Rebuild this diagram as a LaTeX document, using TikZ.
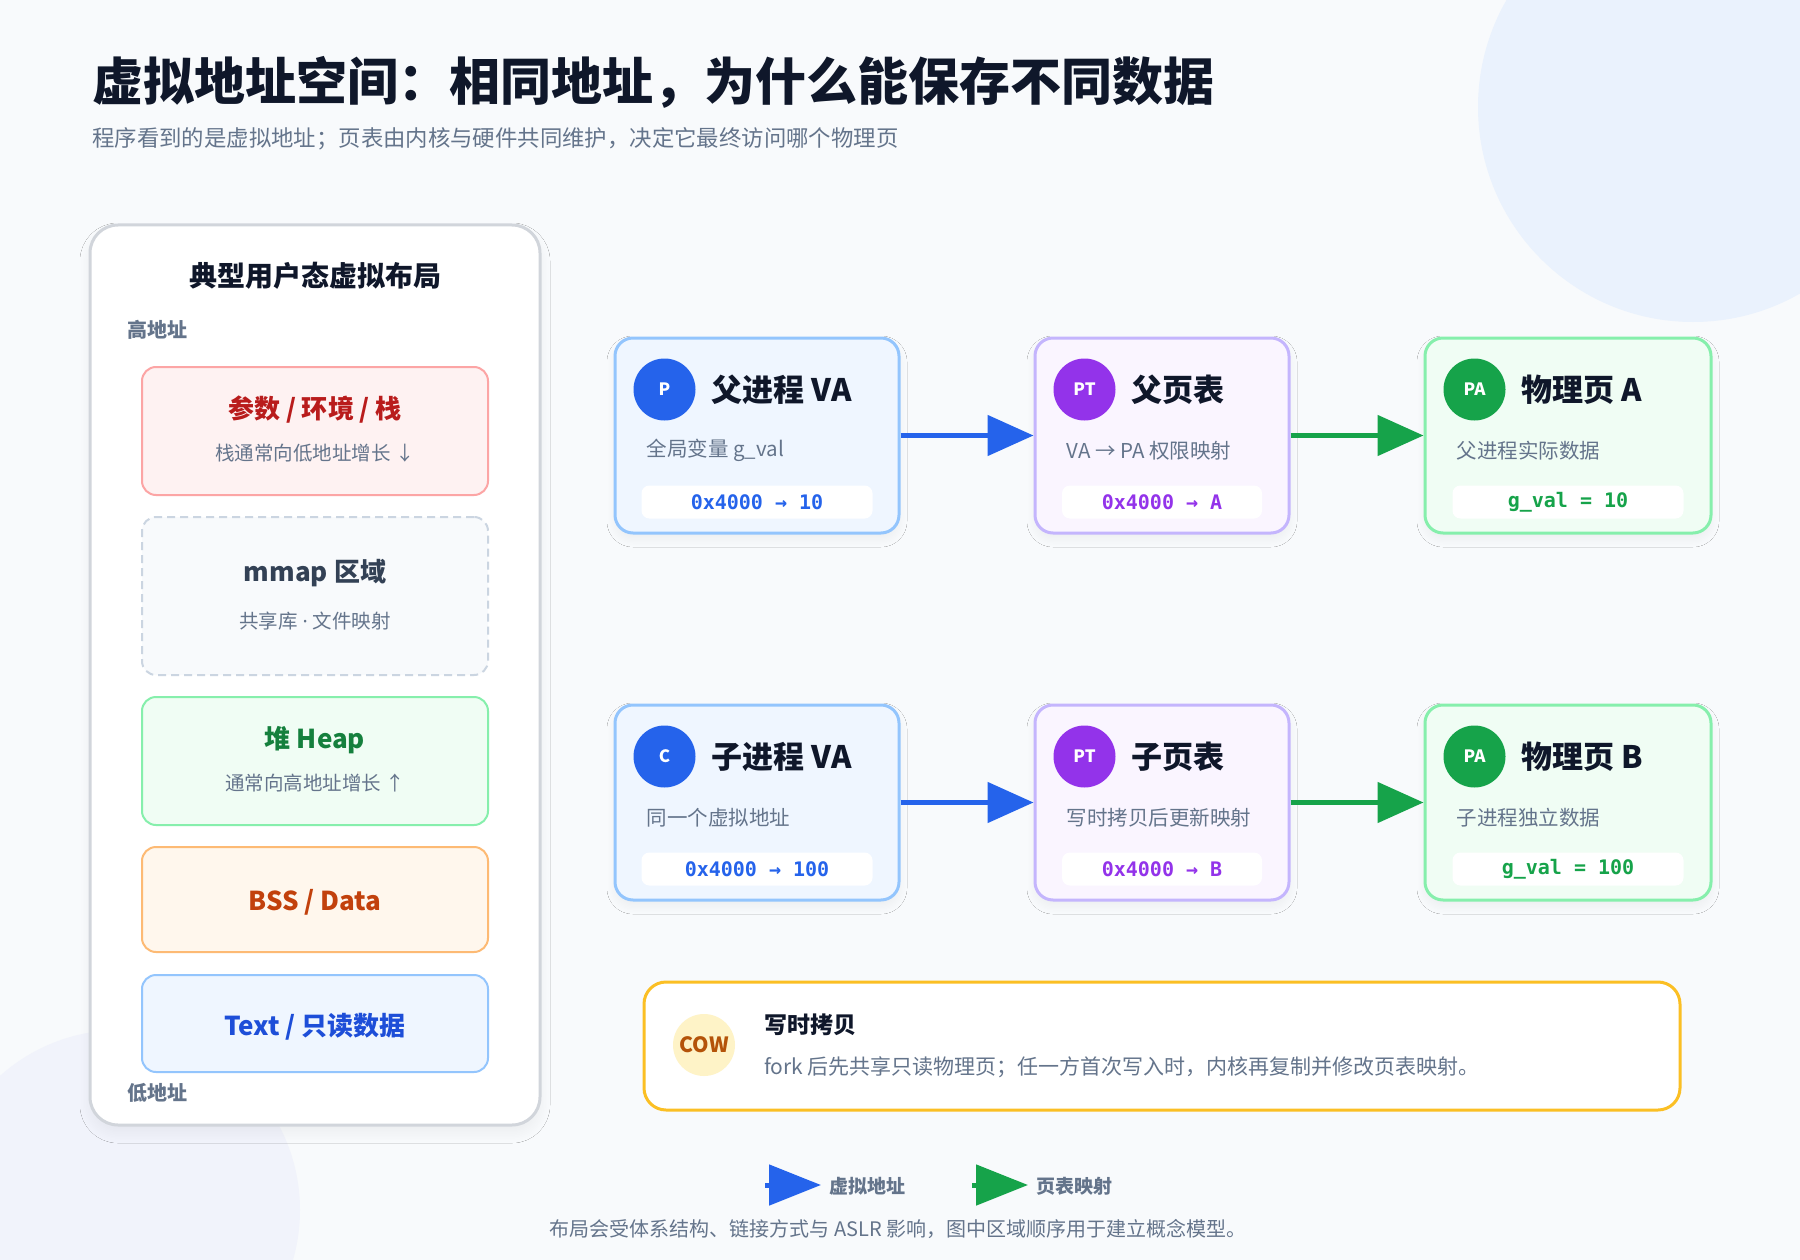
\documentclass[tikz,border=0pt]{standalone}
\usepackage{fontspec}
\setmainfont{Noto Sans CJK SC}
\newfontfamily\codefont{DejaVu Sans Mono}
\newfontfamily\latinfont{Noto Sans}
\usetikzlibrary{arrows.meta, positioning, shadows.blur}

\definecolor{bgpage}{HTML}{F8FAFC}
\definecolor{blobA}{HTML}{EAF2FD}
\definecolor{blobB}{HTML}{F1F3FB}
\definecolor{ink}{HTML}{0F172A}
\definecolor{muted}{HTML}{64748B}
\definecolor{panelD}{HTML}{D1D5DB}
\definecolor{vaF}{HTML}{EFF6FF}\definecolor{vaD}{HTML}{93C5FD}\definecolor{vaC}{HTML}{2563EB}
\definecolor{ptF}{HTML}{FAF5FF}\definecolor{ptD}{HTML}{C4B5FD}\definecolor{ptC}{HTML}{9333EA}
\definecolor{paF}{HTML}{F0FDF4}\definecolor{paD}{HTML}{86EFAC}\definecolor{paC}{HTML}{16A34A}
\definecolor{stF}{HTML}{FEF2F2}\definecolor{stD}{HTML}{FCA5A5}\definecolor{stC}{HTML}{B91C1C}
\definecolor{mmF}{HTML}{F8FAFC}\definecolor{mmD}{HTML}{CBD5E1}\definecolor{mmC}{HTML}{334155}
\definecolor{hpC}{HTML}{15803D}
\definecolor{bsF}{HTML}{FFF7ED}\definecolor{bsD}{HTML}{FDBA74}\definecolor{bsC}{HTML}{C2410C}
\definecolor{txF}{HTML}{EFF6FF}\definecolor{txD}{HTML}{93C5FD}\definecolor{txC}{HTML}{1D4ED8}
\definecolor{cowD}{HTML}{FBBF24}\definecolor{cowF}{HTML}{FEF3C7}\definecolor{cowC}{HTML}{B45309}

\tikzset{
  card/.style={line width=3pt, rounded corners=18pt, minimum height=195pt,
    blur shadow={shadow xshift=0pt, shadow yshift=-6pt, shadow blur radius=8pt, shadow blur steps=30, shadow opacity=5}},
  badge/.style={circle, minimum size=62pt, inner sep=0pt, text=white,
    font=\fontsize{17}{20}\selectfont\bfseries},
  cardtitle/.style={inner sep=0pt, text=ink, font=\fontsize{31}{36}\selectfont\bfseries},
  cardsub/.style={inner sep=0pt, anchor=west, text=muted, font=\fontsize{20.5}{24}\selectfont},
  codebox/.style={fill=white, rounded corners=8pt, minimum height=33pt, inner sep=0pt,
    font=\codefont\fontsize{20}{24}\selectfont\bfseries},
  region/.style={line width=2pt, rounded corners=14pt, minimum width=346pt},
  regtitle/.style={inner sep=0pt, font=\fontsize{26}{30}\selectfont\bfseries},
  regsub/.style={inner sep=0pt, text=muted, font=\fontsize{19.5}{23}\selectfont},
  addr/.style={inner sep=0pt, anchor=west, text=muted, font=\fontsize{20}{24}\selectfont\bfseries},
  vaarrow/.style={draw=vaC, line width=5pt, -{Triangle[length=46pt, width=40pt]}},
  ptarrow/.style={draw=paC, line width=5pt, -{Triangle[length=46pt, width=40pt]}},
  keyva/.style={draw=vaC, line width=5pt, -{Triangle[length=52pt, width=40pt]}},
  keypt/.style={draw=paC, line width=5pt, -{Triangle[length=52pt, width=40pt]}},
}

\begin{document}
\begin{tikzpicture}[x=1pt, y=-1pt]
\useasboundingbox (0,0) rectangle (1800,1260);
\fill[bgpage] (0,0) rectangle (1800,1260);
\fill[blobA] (1693,107) circle[radius=215pt];
\fill[blobB] (120,1210) circle[radius=180pt];

\node[inner sep=0pt, anchor=west, text=ink, font=\fontsize{51}{60}\selectfont\bfseries] (title) at (92,82)
  {虚拟地址空间：相同地址，为什么能保存不同数据};
\node[inner sep=0pt, anchor=west, text=muted, font=\fontsize{22.4}{26}\selectfont] (subtitle) at (92,139)
  {程序看到的是虚拟地址；页表由内核与硬件共同维护，决定它最终访问哪个物理页};

% layout panel
\node[draw=panelD, fill=white, line width=3pt, rounded corners=28pt, minimum width=450pt, minimum height=900pt,
  blur shadow={shadow xshift=0pt, shadow yshift=-8pt, shadow blur radius=10pt, shadow blur steps=30, shadow opacity=5}] (panel) at (315,675) {};
\node[inner sep=0pt, text=ink, font=\fontsize{28}{32}\selectfont\bfseries] (ptitle) at (315,276) {典型用户态虚拟布局};
\node[addr] (high) at (127,330) {高地址};
\node[addr] (low) at (127,1093) {低地址};

\node[region, draw=stD, fill=stF, minimum height=128pt] (stack) at (315,431) {};
\node[regtitle, text=stC] at (315,410) {参数 / 环境 / 栈};
\node[regsub] at (315,453) {栈通常向低地址增长 ↓};
\node[region, draw=mmD, fill=mmF, dash pattern=on 8pt off 5pt, minimum height=158pt] (mmap) at (315,596) {};
\node[regtitle, text=mmC] at (315,573) {mmap 区域};
\node[regsub] at (315,621) {共享库{\latinfont\ ·\ }文件映射};
\node[region, draw=paD, fill=paF, minimum height=128pt] (heap) at (315,761) {};
\node[regtitle, text=hpC] at (315,740) {堆 Heap};
\node[regsub] at (315,783) {通常向高地址增长 ↑};
\node[region, draw=bsD, fill=bsF, minimum height=105pt] (bss) at (315,899.5) {};
\node[regtitle, text=bsC] at (315,902) {BSS / Data};
\node[region, draw=txD, fill=txF, minimum height=97pt] (text) at (315,1023.5) {};
\node[regtitle, text=txC] at (315,1027) {Text / 只读数据};

% parent row
\node[card, draw=vaD, fill=vaF, minimum width=284pt] (pva) at (757,435.5) {};
\node[badge, fill=vaC] (pvab) at ([shift={(51,53)}]pva.north west) {P};
\node[cardtitle, right=16pt of pvab] {父进程 VA};
\node[cardsub] at ([shift={(33,114)}]pva.north west) {全局变量 g\_val};
\node[codebox, text=vaC, minimum width=231pt] at ([yshift=32.5pt]pva.south) {0x4000 → 10};

\node[card, draw=ptD, fill=ptF, minimum width=254pt] (ppt) at (1162,435.5) {};
\node[badge, fill=ptC] (pptb) at ([shift={(51,53)}]ppt.north west) {PT};
\node[cardtitle, right=16pt of pptb] {父页表};
\node[cardsub] at ([shift={(33,114)}]ppt.north west) {VA → PA 权限映射};
\node[codebox, text=ptC, minimum width=200pt] at ([yshift=32.5pt]ppt.south) {0x4000 → A};

\node[card, draw=paD, fill=paF, minimum width=286pt] (ppa) at (1568,435.5) {};
\node[badge, fill=paC] (ppab) at ([shift={(51,53)}]ppa.north west) {PA};
\node[cardtitle, right=16pt of ppab] {物理页 A};
\node[cardsub] at ([shift={(33,114)}]ppa.north west) {父进程实际数据};
\node[codebox, text=paC, minimum width=231pt] at ([yshift=32.5pt]ppa.south) {g\_val = 10};

% child row
\node[card, draw=vaD, fill=vaF, minimum width=284pt] (cva) at (757,802.5) {};
\node[badge, fill=vaC] (cvab) at ([shift={(51,53)}]cva.north west) {C};
\node[cardtitle, right=16pt of cvab] {子进程 VA};
\node[cardsub] at ([shift={(33,114)}]cva.north west) {同一个虚拟地址};
\node[codebox, text=vaC, minimum width=231pt] at ([yshift=32.5pt]cva.south) {0x4000 → 100};

\node[card, draw=ptD, fill=ptF, minimum width=254pt] (cpt) at (1162,802.5) {};
\node[badge, fill=ptC] (cptb) at ([shift={(51,53)}]cpt.north west) {PT};
\node[cardtitle, right=16pt of cptb] {子页表};
\node[cardsub] at ([shift={(33,114)}]cpt.north west) {写时拷贝后更新映射};
\node[codebox, text=ptC, minimum width=200pt] at ([yshift=32.5pt]cpt.south) {0x4000 → B};

\node[card, draw=paD, fill=paF, minimum width=286pt] (cpa) at (1568,802.5) {};
\node[badge, fill=paC] (cpab) at ([shift={(51,53)}]cpa.north west) {PA};
\node[cardtitle, right=16pt of cpab] {物理页 B};
\node[cardsub] at ([shift={(33,114)}]cpa.north west) {子进程独立数据};
\node[codebox, text=paC, minimum width=231pt] at ([yshift=32.5pt]cpa.south) {g\_val = 100};

\draw[vaarrow] (pva) -- (ppt);
\draw[ptarrow] (ppt) -- (ppa);
\draw[vaarrow] (cva) -- (cpt);
\draw[ptarrow] (cpt) -- (cpa);

% cow note
\node[draw=cowD, fill=white, line width=3pt, rounded corners=22pt, minimum width=1036pt, minimum height=128pt] (cow) at (1162,1046) {};
\node[circle, fill=cowF, minimum size=62pt, inner sep=0pt, text=cowC, font=\fontsize{21}{24}\selectfont\bfseries] (cowb) at (704,1045) {COW};
\node[inner sep=0pt, anchor=west, text=ink, font=\fontsize{23}{27}\selectfont\bfseries] (cowt) at (764,1025) {写时拷贝};
\node[inner sep=0pt, anchor=west, text=muted, font=\fontsize{21}{25}\selectfont] (cowd) at (764,1067)
  {fork 后先共享只读物理页；任一方首次写入时，内核再复制并修改页表映射。};

% legend
\coordinate (kva0) at (765,1185);
\coordinate (kva1) at (821,1185);
\coordinate (kpt0) at (972,1185);
\coordinate (kpt1) at (1028,1185);
\draw[keyva] (kva0) -- (kva1);
\draw[keypt] (kpt0) -- (kpt1);
\node[addr, font=\fontsize{19}{22}\selectfont\bfseries] (kvat) at (829,1186) {虚拟地址};
\node[addr, font=\fontsize{19}{22}\selectfont\bfseries] (kptt) at (1036,1186) {页表映射};
\node[inner sep=0pt, text=muted, font=\fontsize{20}{24}\selectfont] (foot) at (898,1229)
  {布局会受体系结构、链接方式与 ASLR 影响，图中区域顺序用于建立概念模型。};
\end{tikzpicture}
\end{document}
